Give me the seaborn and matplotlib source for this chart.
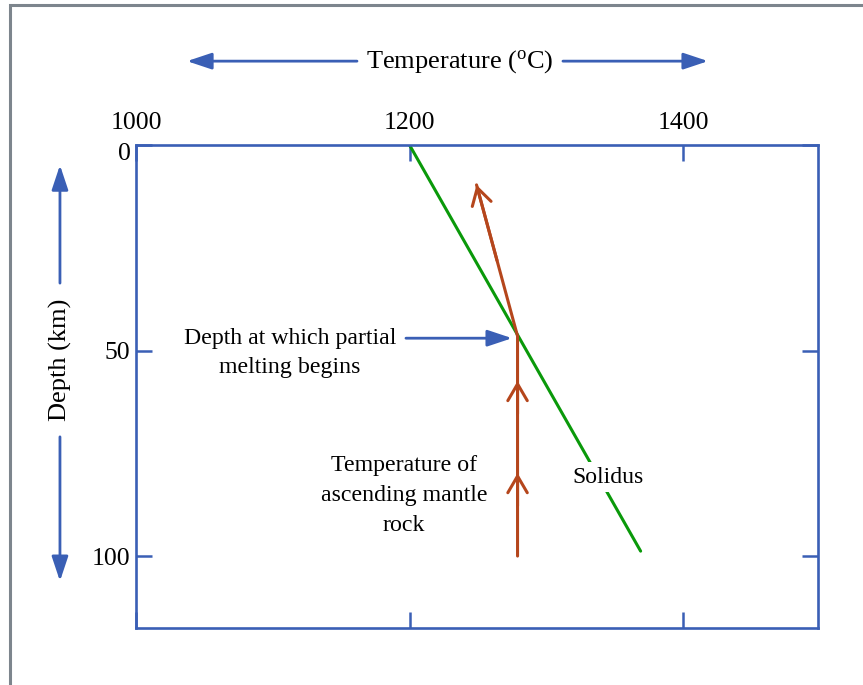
import pandas as pd
import seaborn as sns
import matplotlib.pyplot as plt
import matplotlib.transforms as mtransforms
from matplotlib.patches import Rectangle

# Data
solidus_temp = [1200, 1369]
solidus_depth = [0, 98.8]

mantle_temp = [1279, 1279, 1249]
mantle_depth = [100, 46.5, 9.7]

chevron_depths = [57.4, 79.8]

x_ticks = [1000, 1200, 1400]
y_ticks = [0, 50, 100]

blue = '#3a5fb5'
brown = '#b5461c'
green = '#0a990a'

sns.set_style('white')
plt.rcParams['font.family'] = ['Liberation Serif', 'DejaVu Serif']
plt.rcParams['text.color'] = 'black'

fig = plt.figure(figsize=(8.63, 6.85), dpi=100)
ax = fig.add_axes([136 / 863, 1 - 628 / 685, 682 / 863, 483 / 685])

sol = pd.DataFrame({'temp': solidus_temp, 'depth': solidus_depth})
man = pd.DataFrame({'temp': mantle_temp, 'depth': mantle_depth})

sns.lineplot(data=sol, x='temp', y='depth', color=green, lw=2.2, ax=ax,
             sort=False, estimator=None, zorder=2)
sns.lineplot(data=man, x='temp', y='depth', color=brown, lw=2.2, ax=ax,
             sort=False, estimator=None, zorder=3)

# arrow heads on the mantle path
head = '->,head_length=0.6,head_width=0.35'
for d in chevron_depths:
    ax.annotate('', xy=(mantle_temp[0], d), xytext=(mantle_temp[0], d + 8),
                arrowprops=dict(arrowstyle=head, color=brown, lw=2.2,
                                mutation_scale=20, shrinkA=0, shrinkB=0))
mid_t = (mantle_temp[1] + mantle_temp[2]) / 2
mid_d = (mantle_depth[1] + mantle_depth[2]) / 2
ax.annotate('', xy=(mantle_temp[2], mantle_depth[2]), xytext=(mid_t, mid_d),
            arrowprops=dict(arrowstyle=head, color=brown, lw=2.2,
                            mutation_scale=20, shrinkA=0, shrinkB=0))

ax.set_xlim(1000, 1498.7)
ax.set_ylim(117.5, 0)
ax.set_xticks(x_ticks)
ax.set_yticks(y_ticks)
ax.set_xlabel('')
ax.set_ylabel('')
ax.xaxis.tick_top()
ax.tick_params(axis='both', direction='in', length=11.5, width=1.8, color=blue,
               top=True, bottom=True, left=True, right=True,
               labelsize=18.5, labelcolor='black')
ax.tick_params(axis='x', pad=8)
ax.tick_params(axis='y', pad=4)
for s in ax.spines.values():
    s.set_color(blue)
    s.set_linewidth(1.9)

# labels inside the plot
ax.text(1345, 80.8, 'Solidus', fontsize=17, ha='center', va='center', zorder=4,
        bbox=dict(facecolor='white', edgecolor='none', pad=3))
ax.text(1196, 85.2, 'Temperature of\nascending mantle\nrock', fontsize=17.2,
        ha='center', va='center', linespacing=1.55)
ax.text(1112.6, 50.6, 'Depth at which partial\nmelting begins', fontsize=17.2,
        ha='center', va='center', linespacing=1.55)

arr = dict(arrowstyle='-|>,head_length=0.75,head_width=0.25', color=blue,
           lw=2, mutation_scale=20, shrinkA=0, shrinkB=0)
ax.annotate('', xy=(1275, 47.0), xytext=(1197.4, 47.0), arrowprops=arr)

# axis titles with arrows
ax.text(1236.9, -20.4, 'Temperature ($\\mathregular{^o}$C)', fontsize=19,
        ha='center', va='center', clip_on=False)
ax.annotate('', xy=(1037.3, -20.4), xytext=(1161.6, -20.4), arrowprops=arr,
            annotation_clip=False)
ax.annotate('', xy=(1418.3, -20.4), xytext=(1312.2, -20.4), arrowprops=arr,
            annotation_clip=False)

ax.text(944.4, 52.3, 'Depth (km)', fontsize=19, rotation=90,
        ha='center', va='center', clip_on=False)
ax.annotate('', xy=(944.4, 4.9), xytext=(944.4, 33.6), arrowprops=arr,
            annotation_clip=False)
ax.annotate('', xy=(944.4, 106.1), xytext=(944.4, 71.0), arrowprops=arr,
            annotation_clip=False)

# grey frame around the figure
fig.patches.append(Rectangle((10 / 863, -0.1), 1.2, 1 - 5 / 685 + 0.1,
                             transform=fig.transFigure, fill=False,
                             edgecolor='#7d858d', lw=2.2))

# the "0" label sits a little below its tick in the original
fig.canvas.draw()
lab0 = ax.yaxis.get_major_ticks()[0].label1
lab0.set_transform(lab0.get_transform() +
                   mtransforms.ScaledTranslation(0, -6 / 100, fig.dpi_scale_trans))

fig.savefig('out.png', dpi=100)
